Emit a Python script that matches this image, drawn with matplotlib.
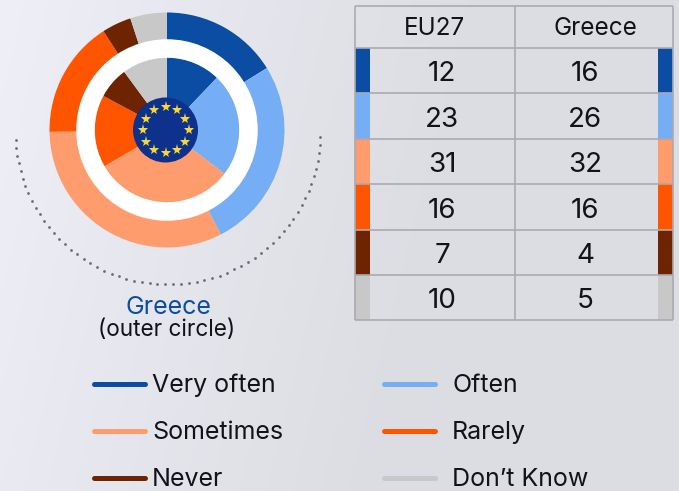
import numpy as np
import matplotlib
matplotlib.use("Agg")
import matplotlib.pyplot as plt
from matplotlib.patches import Rectangle, Circle

categories = ["Very often", "Often", "Sometimes", "Rarely", "Never", "Don\u2019t Know"]
eu27 = [12, 23, 31, 16, 7, 10]
greece = [16, 26, 32, 16, 4, 5]
colors = ["#0B4DA2", "#76AEF5", "#FF9C6E", "#FF5500", "#6E2400", "#C8C8C8"]
column_labels = ["EU27", "Greece"]

W, H = 679, 491
plt.rcParams["font.family"] = ["Inter", "DejaVu Sans"]
INK = "#111318"
GRID = "#A9ABAE"

fig = plt.figure(figsize=(W / 100, H / 100), dpi=100)
ax = fig.add_axes([0, 0, 1, 1])
ax.set_xlim(0, W)
ax.set_ylim(0, H)
ax.axis("off")

def Y(y):
    return H - y

# background gradient
xx, yy = np.meshgrid(np.linspace(0, 1, 200), np.linspace(0, 1, 200))
t = np.clip(0.85 * xx + 0.15 * yy, 0, 1)
t = np.clip(t / 0.62, 0, 1)
c0 = np.array([0xEE, 0xEF, 0xF7]) / 255
c1 = np.array([0xDC, 0xDD, 0xE2]) / 255
img = c0[None, None, :] * (1 - t[..., None]) + c1[None, None, :] * t[..., None]
ax.imshow(img, extent=(0, W, 0, H), origin="upper", aspect="auto", zorder=0)

# donuts
cx, cy = 167, Y(130)
ax.pie(greece, colors=colors, startangle=90, counterclock=False, center=(cx, cy),
       radius=117.5, wedgeprops=dict(width=117.5 - 88, linewidth=0), frame=False)
ax.pie(eu27, colors=colors, startangle=90, counterclock=False, center=(cx, cy),
       radius=72.5, wedgeprops=dict(width=72.5 - 30, linewidth=0), frame=False)
ax.set_xlim(0, W)
ax.set_ylim(0, H)
ax.set_aspect("auto")
ax.axis("off")
# white ring
ax.add_patch(Circle((cx, cy), 81.5, fc="none", ec="white", lw=18.5 * 0.72, zorder=5))

# EU flag
fx, fy = 165.5, Y(130)
ax.add_patch(Circle((fx, fy), 32.5, fc="#0E318C", ec="none", zorder=6))
ang = np.deg2rad(np.arange(0, 360, 30))
ax.plot(fx + 23 * np.cos(ang), fy + 23 * np.sin(ang), ls="none", marker="*", ms=8,
        mfc="#F7D63A", mec="#F7D63A", mew=0, zorder=7)

# dotted arc
th = np.deg2rad(np.linspace(183, 358, 60))
ax.plot(168 + 152.5 * np.cos(th), Y(132) + 152.5 * np.sin(th), ls="none", marker="o",
        ms=2.0, mfc="#6A6D73", mew=0, zorder=2)

ax.text(168, Y(307.5), "Greece", color="#0B4DA2", fontsize=18, ha="center", va="center", zorder=8)
ax.text(167, Y(330), "(outer circle)", color=INK, fontsize=16.3, ha="center", va="center", zorder=8)

# table
tx0, tx1, txm = 355, 673, 514.5
rows = [6, 48, 93, 139, 184, 229.5, 275, 320]
for i, col in enumerate(colors):
    y0, y1 = rows[i + 1], rows[i + 2]
    ax.add_patch(Rectangle((tx0, Y(y1)), 15, y1 - y0, fc=col, ec="none", zorder=3))
    ax.add_patch(Rectangle((tx1 - 15, Y(y1)), 15, y1 - y0, fc=col, ec="none", zorder=3))
    ym = Y((y0 + y1) / 2 + 3.8)
    ax.text(442, ym, str(eu27[i]), fontsize=20, color=INK, ha="center", va="center", zorder=8)
    ax.text(585, ym, str(greece[i]), fontsize=20, color=INK, ha="center", va="center", zorder=8)
for y in rows:
    ax.plot([tx0, tx1], [Y(y), Y(y)], color=GRID, lw=1.2, zorder=4, solid_capstyle="butt")
for x in (tx0, txm, tx1):
    ax.plot([x, x], [Y(rows[0]), Y(rows[-1])], color=GRID, lw=1.2, zorder=4, solid_capstyle="butt")
ax.text(434, Y(28.5), column_labels[0], fontsize=17.5, color=INK, ha="center", va="center", zorder=8)
ax.text(595, Y(28.5), column_labels[1], fontsize=17.5, color=INK, ha="center", va="center", zorder=8)

# legend
for i, (lab, col) in enumerate(zip(categories, colors)):
    r, c = i // 2, i % 2
    y = Y(384 + 47 * r)
    x0 = 94 + 290 * c
    ax.plot([x0, x0 + 51], [y, y], color=col, lw=3.6, solid_capstyle="round", zorder=3)
    ax.text(152 + 300 * c, y - 1.5, lab, fontsize=18, color=INK,
            ha="left", va="center", zorder=8)

fig.savefig("out.png", dpi=100)
